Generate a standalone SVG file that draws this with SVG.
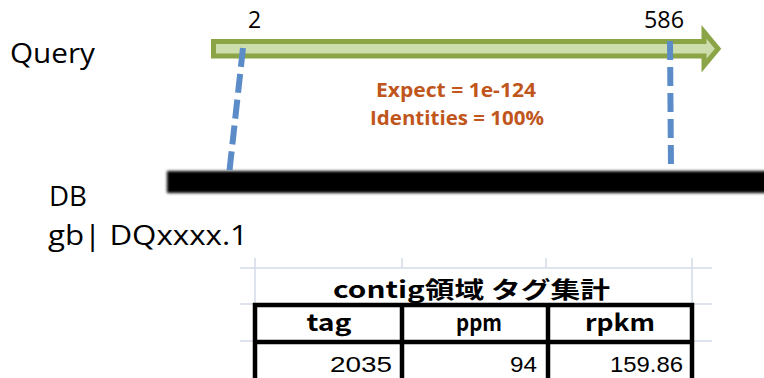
<svg xmlns="http://www.w3.org/2000/svg" width="764" height="378" viewBox="0 0 764 378">
  <style>
    .lbl { font-family: "Open Sans", "Liberation Sans", sans-serif; font-size: 27px; fill: #000; }
    .num { font-family: "Open Sans", "Liberation Sans", sans-serif; font-size: 23px; fill: #000; }
    .stat { font-family: "Open Sans", "Liberation Sans", sans-serif; font-size: 19.5px; font-weight: bold; fill: #C0561C; text-anchor: middle; }
    .tbl { font-family: "Noto Sans CJK JP", "Liberation Sans", sans-serif; fill: #000; }
    .cell { font-family: "Liberation Sans", "Noto Sans CJK JP", sans-serif; fill: #000; font-size: 22px; text-anchor: end; }
    .grid { stroke: #D3DAE8; stroke-width: 1.5; fill: none; }
    .border { stroke: #000; stroke-width: 4.5; fill: none; }
    .hit { stroke: #5B8CC8; stroke-width: 6; stroke-dasharray: 19 7; fill: none; }
  </style>
  <defs>
    <filter id="soft" x="-5%" y="-50%" width="110%" height="200%">
      <feGaussianBlur stdDeviation="1.6"/>
    </filter>
  </defs>
  <rect width="764" height="378" fill="#fff"/>

  <g id="query">
    <text class="lbl" x="10" y="63" textLength="85" lengthAdjust="spacingAndGlyphs">Query</text>
    <polygon points="213.5,41.5 704,41.5 704,32 718,48.75 704,65.5 704,56 213.5,56" fill="#CDDDAC" stroke="#8BA446" stroke-width="5" stroke-linejoin="miter"/>
    <text class="num" x="248" y="28">2</text>
    <text class="num" x="644" y="28" textLength="40" lengthAdjust="spacingAndGlyphs">586</text>
  </g>

  <g id="db">
    <rect x="167" y="171" width="600" height="22" fill="#000" filter="url(#soft)"/>
    <text class="lbl" x="49" y="206" textLength="38" lengthAdjust="spacingAndGlyphs">DB</text>
    <text class="lbl" x="48" y="245" textLength="200" lengthAdjust="spacingAndGlyphs">gb| DQxxxx.1</text>
  </g>

  <g id="connectors">
    <line class="hit" x1="243" y1="48" x2="229" y2="175"/>
    <line class="hit" x1="670" y1="41" x2="671" y2="170"/>
  </g>

  <g id="stats">
    <text class="stat" x="456" y="97" textLength="160" lengthAdjust="spacingAndGlyphs">Expect = 1e-124</text>
    <text class="stat" x="457" y="125" textLength="174" lengthAdjust="spacingAndGlyphs">Identities = 100%</text>
  </g>

  <g id="table">
    <g class="grid">
      <line x1="240" y1="268" x2="712" y2="268"/>
      <line x1="255" y1="258" x2="255" y2="305"/>
      <line x1="402" y1="258" x2="402" y2="268"/>
      <line x1="546" y1="258" x2="546" y2="268"/>
      <line x1="692" y1="258" x2="692" y2="305"/>
      <line x1="240" y1="304" x2="712" y2="304"/>
      <line x1="240" y1="341" x2="712" y2="341"/>
    </g>
    <rect x="255" y="305" width="437" height="80" fill="#fff"/>
    <g class="border">
      <rect x="255" y="305" width="437" height="80"/>
      <line x1="255" y1="342" x2="692" y2="342"/>
      <line x1="402" y1="305" x2="402" y2="385"/>
      <line x1="548" y1="305" x2="548" y2="385"/>
    </g>
    <text class="tbl" x="333" y="298" font-size="23" font-weight="bold" textLength="277" lengthAdjust="spacingAndGlyphs">contig領域 タグ集計</text>
    <text class="tbl" x="329" y="331" font-size="23" font-weight="bold" text-anchor="middle" textLength="45" lengthAdjust="spacingAndGlyphs">tag</text>
    <text class="tbl" x="479" y="331" font-size="23" font-weight="bold" text-anchor="middle" textLength="46" lengthAdjust="spacingAndGlyphs">ppm</text>
    <text class="tbl" x="620" y="331" font-size="23" font-weight="bold" text-anchor="middle" textLength="70" lengthAdjust="spacingAndGlyphs">rpkm</text>
    <text class="cell" x="392" y="372" textLength="62" lengthAdjust="spacingAndGlyphs">2035</text>
    <text class="cell" x="537" y="372" textLength="27" lengthAdjust="spacingAndGlyphs">94</text>
    <text class="cell" x="683" y="372" textLength="73" lengthAdjust="spacingAndGlyphs">159.86</text>
  </g>
</svg>
